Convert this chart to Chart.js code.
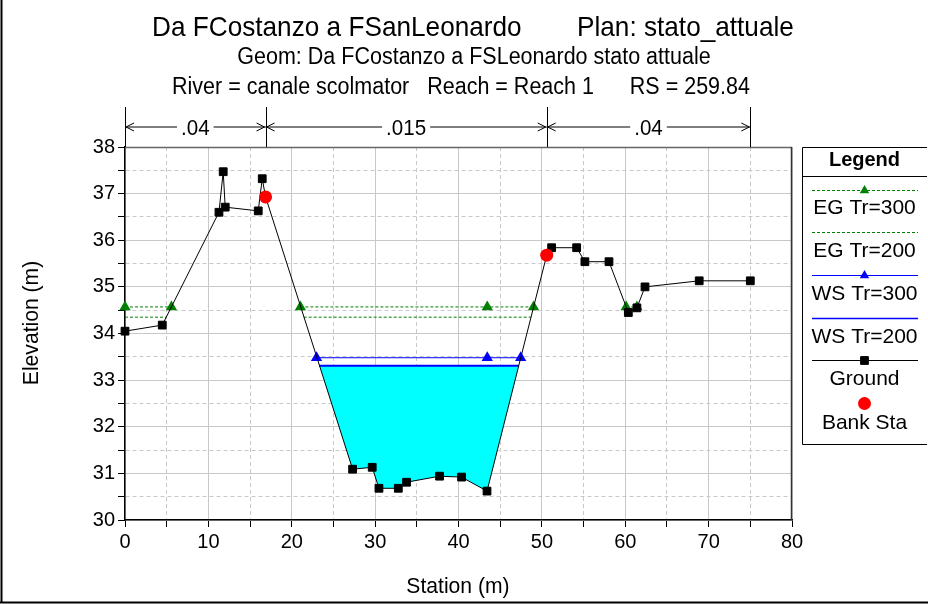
<!DOCTYPE html>
<html>
<head>
<meta charset="utf-8">
<script src="https://cdn.jsdelivr.net/npm/chart.js@4.4.0/dist/chart.umd.min.js"></script>
<style>
  html, body { margin: 0; padding: 0; background: #fff; }
  canvas { display: block; }
</style>
</head>
<body>
<canvas id="xs" width="928" height="604"></canvas>
<script>
// ground profile (station m, elevation m)
const groundSta  = [0, 4.47, 11.27, 11.78, 12.02, 15.98, 16.46, 16.86, 27.3, 29.65, 30.46, 32.78, 33.77, 37.73, 40.37, 43.42, 50.58, 51.17, 54.17, 55.16, 58.05, 60.37, 61.4, 62.37, 68.87, 75];
const groundElev = [34.05, 34.18, 36.6, 37.47, 36.71, 36.63, 37.32, 36.93, 31.09, 31.13, 30.68, 30.68, 30.81, 30.94, 30.92, 30.62, 35.68, 35.84, 35.84, 35.54, 35.54, 34.45, 34.55, 35.0, 35.13, 35.13];

const bankSta  = [16.86, 50.58];
const bankElev = [36.93, 35.68];

// water surfaces / energy grade, stations grouped per wetted segment
const eg300Elev = 34.57;
const eg300Sta  = [[0, 5.57], [21.04, 43.45, 49.0], [60.11, 61.4]];
const eg200Elev = 34.35;
const eg200Sta  = [[0, 4.95], [21.43, 48.7]];
const ws300Elev = 33.48;
const ws300Sta  = [[22.97, 43.45, 47.46]];
const ws200Elev = 33.31;
const ws200Sta  = [[23.27, 47.22]];

// manning n strips
const nBreaks = [0, 16.86, 50.58, 75];
const nValues = ['.04', '.015', '.04'];

const xTicks = [0, 10, 20, 30, 40, 50, 60, 70, 80];
const yTicks = [30, 31, 32, 33, 34, 35, 36, 37, 38];

const FONT = '"Liberation Sans", Arial, sans-serif';

function pts(xs, ys) {
  return xs.map((x, i) => ({ x: x, y: ys[i] }));
}
function segPts(segs, elev) {
  let out = [];
  segs.forEach((s, k) => {
    if (k > 0) out.push({ x: s[0], y: null });
    s.forEach(x => out.push({ x: x, y: elev }));
  });
  return out;
}

function txt(ctx, s, x, y, size, opts) {
  opts = opts || {};
  ctx.save();
  ctx.translate(x, y);
  if (opts.rot) ctx.rotate(opts.rot);
  ctx.scale(opts.sx || 1, 1);
  ctx.font = (opts.bold ? 'bold ' : '') + size + 'px ' + FONT;
  ctx.fillStyle = '#000';
  ctx.textAlign = opts.align || 'center';
  ctx.textBaseline = opts.base || 'alphabetic';
  ctx.fillText(s, 0, 0);
  ctx.restore();
}

function line(ctx, x1, y1, x2, y2, color, w, dash) {
  ctx.save();
  ctx.strokeStyle = color;
  ctx.lineWidth = w;
  ctx.setLineDash(dash || []);
  ctx.beginPath();
  ctx.moveTo(x1, y1);
  ctx.lineTo(x2, y2);
  ctx.stroke();
  ctx.restore();
}

const decor = {
  id: 'decor',
  beforeDatasetsDraw(chart) {
    const a = chart.chartArea, ctx = chart.ctx;
    line(ctx, a.left, a.top + 0.5, a.right, a.top + 0.5, '#666', 1.5);
    line(ctx, a.right - 0.5, a.top, a.right - 0.5, a.bottom, '#333', 1.5);
  },
  afterDraw(chart) {
    const ctx = chart.ctx, a = chart.chartArea, sx = chart.scales.x;

    // titles
    txt(ctx, 'Da FCostanzo a FSanLeonardo', 152, 36, 28, { align: 'left', sx: 0.935 });
    txt(ctx, 'Plan: stato_attuale', 577, 36, 28, { align: 'left', sx: 0.935 });
    txt(ctx, 'Geom: Da FCostanzo a FSLeonardo stato attuale', 474, 64, 23, { sx: 0.935 });
    txt(ctx, 'River = canale scolmator   Reach = Reach 1      RS = 259.84', 461, 94, 23, { sx: 0.935 });

    // roughness strips
    const ay = 127;
    nBreaks.forEach(b => {
      const x = Math.round(sx.getPixelForValue(b)) + 0.5;
      line(ctx, x, 107, x, a.top, '#000', 1);
    });
    ctx.font = '22px ' + FONT;
    nValues.forEach((n, i) => {
      const x0 = sx.getPixelForValue(nBreaks[i]);
      const x1 = sx.getPixelForValue(nBreaks[i + 1]);
      const mid = (x0 + x1) / 2;
      const w = ctx.measureText(n).width * 0.935;
      line(ctx, x0, ay, mid - w / 2 - 4, ay, '#000', 1);
      line(ctx, mid + w / 2 + 4, ay, x1, ay, '#000', 1);
      ctx.save();
      ctx.strokeStyle = '#000';
      ctx.lineWidth = 1;
      ctx.beginPath();
      ctx.moveTo(x0 + 9, ay - 4); ctx.lineTo(x0 + 1, ay); ctx.lineTo(x0 + 9, ay + 4);
      ctx.moveTo(x1 - 9, ay - 4); ctx.lineTo(x1 - 1, ay); ctx.lineTo(x1 - 9, ay + 4);
      ctx.stroke();
      ctx.restore();
      txt(ctx, n, mid, ay + 8, 22, { sx: 0.935 });
    });

    // axis titles
    txt(ctx, 'Elevation (m)', 38, 323, 22, { rot: -Math.PI / 2, sx: 0.96 });
    txt(ctx, 'Station (m)', 458, 593, 22, { sx: 0.96 });

    // legend box
    const lx = 802.5, lr = 927, lt = 147.5, lb = 444.5, lc = 864.5;
    ctx.save();
    ctx.strokeStyle = '#000';
    ctx.lineWidth = 1;
    ctx.beginPath();
    ctx.moveTo(lr, lt); ctx.lineTo(lx, lt); ctx.lineTo(lx, lb); ctx.lineTo(lr, lb);
    ctx.moveTo(lx, 176.5); ctx.lineTo(lr, 176.5);
    ctx.stroke();
    ctx.restore();
    txt(ctx, 'Legend', lc, 160, 20, { bold: true, base: 'middle' });

    const rows = [
      { ds: 2, ly: 190, ty: 208 },
      { ds: 3, ly: 232, ty: 251 },
      { ds: 4, ly: 275, ty: 294 },
      { ds: 5, ly: 318, ty: 337 },
      { ds: 1, ly: 360, ty: 379 },
      { ds: 0, ly: 403, ty: 423 }
    ];
    rows.forEach(r => {
      const d = chart.data.datasets[r.ds];
      if (d.showLine) {
        line(ctx, 812, r.ly + 0.5, 918, r.ly + 0.5, d.borderColor, Math.min(d.borderWidth, 1.3), d.borderDash);
      }
      if (d.pointRadius > 0) {
        ctx.save();
        ctx.fillStyle = d.pointBackgroundColor || d.backgroundColor;
        ctx.strokeStyle = d.pointBorderColor || d.borderColor;
        Chart.helpers.drawPoint(ctx, {
          pointStyle: d.pointStyle,
          radius: d.pointStyle === 'triangle' ? 5.5 : d.pointRadius,
          borderWidth: d.pointBorderWidth || 0,
          rotation: 0
        }, lc, r.ly + 0.5);
        ctx.restore();
      }
      txt(ctx, d.label, lc, r.ty, 21, { base: 'middle' });
    });

    // outer frame
    line(ctx, 1.5, 0, 1.5, 603, '#000', 2);
    line(ctx, 0, 602.5, 928, 602.5, '#000', 2);
  }
};

const minorDash = [4, 3];

new Chart(document.getElementById('xs'), {
  type: 'scatter',
  data: {
    datasets: [
      {
        label: 'Bank Sta',
        data: pts(bankSta, bankElev),
        showLine: false,
        pointStyle: 'circle',
        pointRadius: 6.5,
        backgroundColor: '#ff0000',
        borderColor: '#ff0000',
        pointBorderWidth: 0,
        clip: false
      },
      {
        label: 'Ground',
        data: pts(groundSta, groundElev),
        showLine: true,
        borderColor: '#000000',
        borderWidth: 1,
        pointStyle: 'rect',
        pointRadius: 5.5,
        pointBackgroundColor: '#000000',
        pointBorderColor: '#000000',
        pointBorderWidth: 1,
        clip: false
      },
      {
        label: 'EG Tr=300',
        data: segPts(eg300Sta, eg300Elev),
        showLine: true,
        spanGaps: false,
        borderColor: '#008000',
        borderWidth: 1,
        borderDash: [3, 2],
        pointStyle: 'triangle',
        pointRadius: 6.5,
        pointBackgroundColor: '#008000',
        pointBorderColor: '#008000',
        pointBorderWidth: 0,
        clip: false
      },
      {
        label: 'EG Tr=200',
        data: segPts(eg200Sta, eg200Elev),
        showLine: true,
        spanGaps: false,
        borderColor: '#008000',
        borderWidth: 1,
        borderDash: [3, 2],
        pointRadius: 0
      },
      {
        label: 'WS Tr=300',
        data: segPts(ws300Sta, ws300Elev),
        showLine: true,
        borderColor: '#0000ff',
        borderWidth: 1,
        pointStyle: 'triangle',
        pointRadius: 6.5,
        pointBackgroundColor: '#0000ff',
        pointBorderColor: '#0000ff',
        pointBorderWidth: 0,
        clip: false
      },
      {
        label: 'WS Tr=200',
        data: segPts(ws200Sta, ws200Elev),
        showLine: true,
        borderColor: '#0000ff',
        borderWidth: 2,
        pointRadius: 0,
        backgroundColor: '#00ffff',
        fill: { target: 1, above: '#00ffff', below: '#00ffff' }
      }
    ]
  },
  options: {
    responsive: false,
    animation: false,
    events: [],
    layout: { padding: { top: 147, right: 136, left: 0, bottom: 0 } },
    plugins: { legend: { display: false }, tooltip: { enabled: false } },
    scales: {
      x: {
        type: 'linear',
        min: xTicks[0],
        max: xTicks[xTicks.length - 1],
        ticks: {
          stepSize: 5,
          autoSkip: false,
          maxRotation: 0,
          color: '#000',
          padding: 3,
          font: { family: FONT, size: 20 },
          callback: v => xTicks.includes(v) ? String(v) : ''
        },
        grid: {
          color: '#c8c8c8',
          lineWidth: 1,
          tickLength: 7,
          tickColor: '#000',
          tickWidth: 1,
          tickBorderDash: []
        },
        border: {
          color: '#000',
          width: 1.5,
          dash: c => (c.tick && !xTicks.includes(c.tick.value)) ? minorDash : []
        },
        afterFit: s => { s.height = 84; }
      },
      y: {
        type: 'linear',
        min: yTicks[0],
        max: yTicks[yTicks.length - 1],
        ticks: {
          stepSize: 0.5,
          autoSkip: false,
          color: '#000',
          padding: 3,
          font: { family: FONT, size: 20 },
          callback: v => yTicks.includes(v) ? String(v) : ''
        },
        grid: {
          color: '#c8c8c8',
          lineWidth: 1,
          tickLength: 7,
          tickColor: '#000',
          tickWidth: 1,
          tickBorderDash: []
        },
        border: {
          color: '#000',
          width: 1.5,
          dash: c => (c.tick && !yTicks.includes(c.tick.value)) ? minorDash : []
        },
        afterFit: s => { s.width = 125; }
      }
    }
  },
  plugins: [decor]
});
</script>
</body>
</html>
